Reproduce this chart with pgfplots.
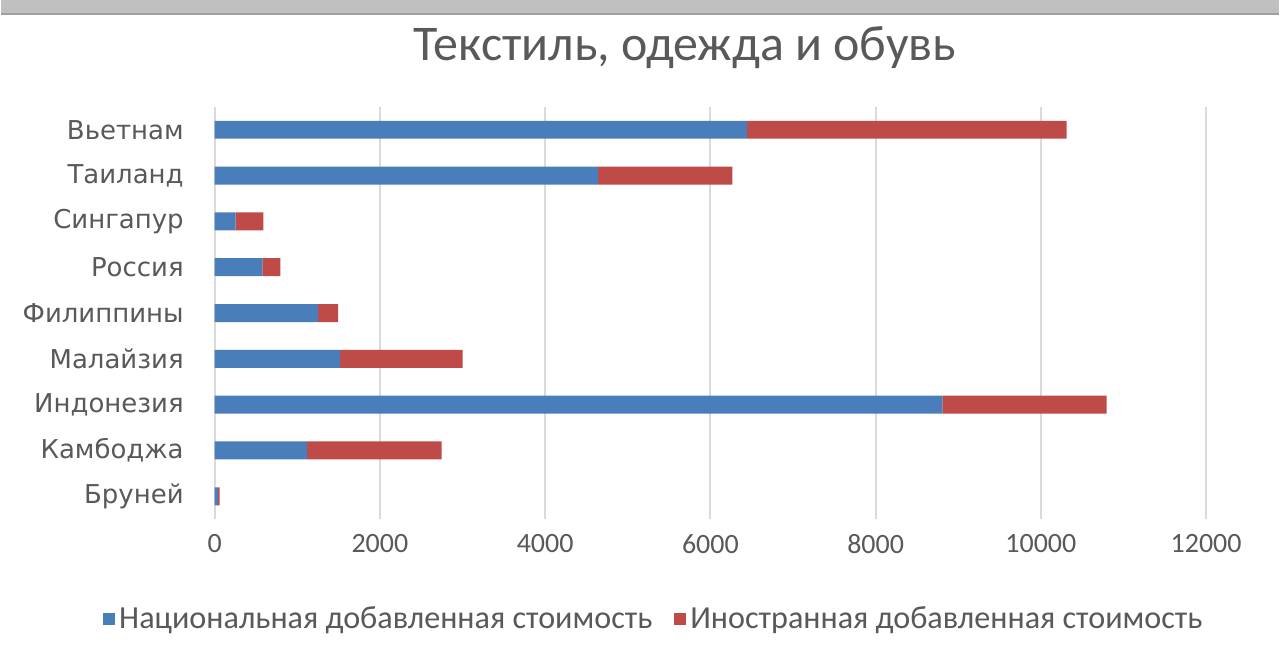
\documentclass[border=0pt]{standalone}
\usepackage{pgfplots}
\pgfplotsset{compat=1.18}
\usepackage{fontspec}
\setmainfont{Carlito}
\newfontfamily\labfont{DejaVu Sans}
\definecolor{cblue}{HTML}{4A7EBB}
\definecolor{cred}{HTML}{BE4B48}
\definecolor{txt}{HTML}{595959}
\definecolor{band}{HTML}{C0C0C0}
\definecolor{bandline}{HTML}{A0A0A0}
\definecolor{gridc}{HTML}{DADADA}
\begin{document}
\begin{tikzpicture}
\fill[white] (0,0) rectangle (640pt,-328.5pt);
\fill[band] (0,0) rectangle (640pt,-7.5pt);
\draw[bandline, line width=1pt] (0,-7pt) -- (640pt,-7pt);
\node[text=txt, font=\fontsize{25}{29}\selectfont] at (342.5pt,-24pt) {Текстиль, одежда и обувь};
\begin{axis}[
  at={(107pt,-260pt)}, anchor=south west,
  scale only axis, width=496.5pt, height=206.5pt,
  xbar stacked, bar width=9pt,
  xmin=0, xmax=12000, ymin=-0.5, ymax=8.5,
  ytick={0,...,8},
  yticklabels={Бруней,Камбоджа,Индонезия,Малайзия,Филиппины,Россия,Сингапур,Таиланд,Вьетнам},
  xtick={0,2000,...,12000},
  scaled x ticks=false,
  xticklabel style={/pgf/number format/1000 sep={}, text=txt, font=\fontsize{14}{16}\selectfont, yshift=-4pt},
  yticklabel style={text=txt, font=\labfont\fontsize{13}{15}\selectfont, xshift=-12pt},
  /pgf/number format/assume math mode=true,
  xmajorgrids, major grid style={gridc, line width=0.9pt},
  axis line style={draw=none}, tick style={draw=none},
  legend style={at={(0.444,-0.242)}, anchor=center, draw=none, fill=none,
    legend columns=2, font=\fontsize{16.1}{19}\selectfont, text=txt,
    /tikz/every even column/.append style={column sep=9pt}},
  legend image code/.code={\fill[#1] (0pt,-3pt) rectangle (6pt,3pt);},
]
\addplot[fill=cblue, draw=none] coordinates {(40,0) (1120,1) (8807,2) (1518,3) (1253,4) (578,5) (253,6) (4640,7) (6446,8)};
\addlegendentry{Национальная добавленная стоимость}
\addplot[fill=cred, draw=none] coordinates {(20,0) (1627,1) (1988,2) (1482,3) (241,4) (217,5) (337,6) (1625,7) (3867,8)};
\addlegendentry{Иностранная добавленная стоимость}
\end{axis}
\end{tikzpicture}
\end{document}
